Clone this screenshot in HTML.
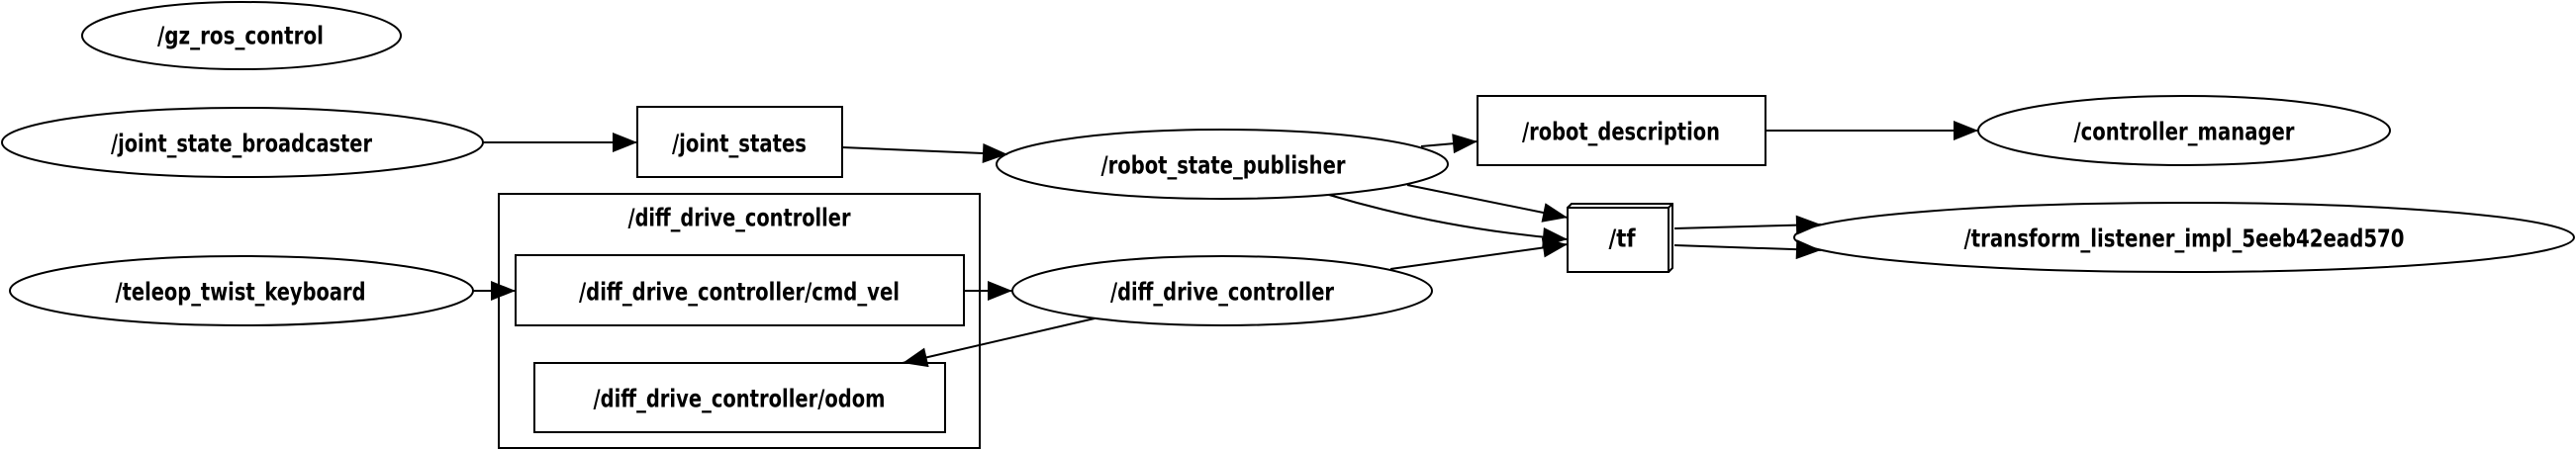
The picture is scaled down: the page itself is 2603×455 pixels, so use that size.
<!DOCTYPE html>
<html><head><meta charset="utf-8"><style>html,body{margin:0;padding:0;background:#fff}svg{display:block}</style></head>
<body>
<svg width="2603" height="455" viewBox="0 0 2603 455" xmlns="http://www.w3.org/2000/svg">
<defs>
<marker id="b" viewBox="0 0 10 8" markerWidth="26" markerHeight="20" refX="10" refY="4" orient="auto" markerUnits="userSpaceOnUse"><path d="M0,0L10,4L0,8z" fill="#000"/></marker></defs>
<g fill="none" stroke="#000" stroke-width="2">
<ellipse cx="244" cy="36" rx="161" ry="34"/>
<ellipse cx="245" cy="144" rx="243" ry="35"/>
<rect x="644" y="108" width="207" height="71"/>
<rect x="504" y="196" width="486" height="257"/>
<ellipse cx="244" cy="294" rx="234" ry="35"/>
<rect x="521" y="258" width="453" height="71"/>
<rect x="540" y="367" width="415" height="70"/>
<ellipse cx="1235" cy="166" rx="228" ry="35"/>
<rect x="1493" y="97" width="291" height="70"/>
<path d="M1584,210h102v65h-102z M1584,210l4,-4h102v65l-4,4 M1686,210l4,-4"/>
<ellipse cx="1235" cy="294" rx="212" ry="35"/>
<ellipse cx="2207" cy="132" rx="208" ry="35"/>
<ellipse cx="2207" cy="240" rx="394" ry="35"/>
<g marker-end="url(#b)">
<path d="M488,144H644"/>
<path d="M851,149L1018,156"/>
<path d="M478,294H521"/>
<path d="M974,294H1023"/>
<path d="M1436,148L1493,143"/>
<path d="M1422,187L1584,220"/>
<path d="M1343,197C1420,220 1500,235 1584,242"/>
<path d="M1405,272L1584,247"/>
<path d="M1106,322L912,367"/>
<path d="M1784,132H1999"/>
<path d="M1692,231L1840,227"/>
<path d="M1692,248L1840,253"/>
</g>
</g>
<g font-family="'DejaVu Sans Condensed','DejaVu Sans','Liberation Sans',sans-serif" font-weight="bold" font-size="25" text-anchor="middle" dominant-baseline="central">
<text x="243" y="36" textLength="168" lengthAdjust="spacingAndGlyphs">/gz_ros_control</text>
<text x="244" y="145" textLength="264" lengthAdjust="spacingAndGlyphs">/joint_state_broadcaster</text>
<text x="747" y="145" textLength="136" lengthAdjust="spacingAndGlyphs">/joint_states</text>
<text x="747" y="220" textLength="225" lengthAdjust="spacingAndGlyphs">/diff_drive_controller</text>
<text x="243" y="295" textLength="253" lengthAdjust="spacingAndGlyphs">/teleop_twist_keyboard</text>
<text x="747" y="295" textLength="324" lengthAdjust="spacingAndGlyphs">/diff_drive_controller/cmd_vel</text>
<text x="747" y="403" textLength="295" lengthAdjust="spacingAndGlyphs">/diff_drive_controller/odom</text>
<text x="1236" y="167" textLength="247" lengthAdjust="spacingAndGlyphs">/robot_state_publisher</text>
<text x="1638" y="133" textLength="200" lengthAdjust="spacingAndGlyphs">/robot_description</text>
<text x="1639" y="241" textLength="27" lengthAdjust="spacingAndGlyphs">/tf</text>
<text x="1235" y="295" textLength="226" lengthAdjust="spacingAndGlyphs">/diff_drive_controller</text>
<text x="2207" y="133" textLength="223" lengthAdjust="spacingAndGlyphs">/controller_manager</text>
<text x="2207" y="241" textLength="445" lengthAdjust="spacingAndGlyphs">/transform_listener_impl_5eeb42ead570</text>
</g>
</svg>
</body></html>
